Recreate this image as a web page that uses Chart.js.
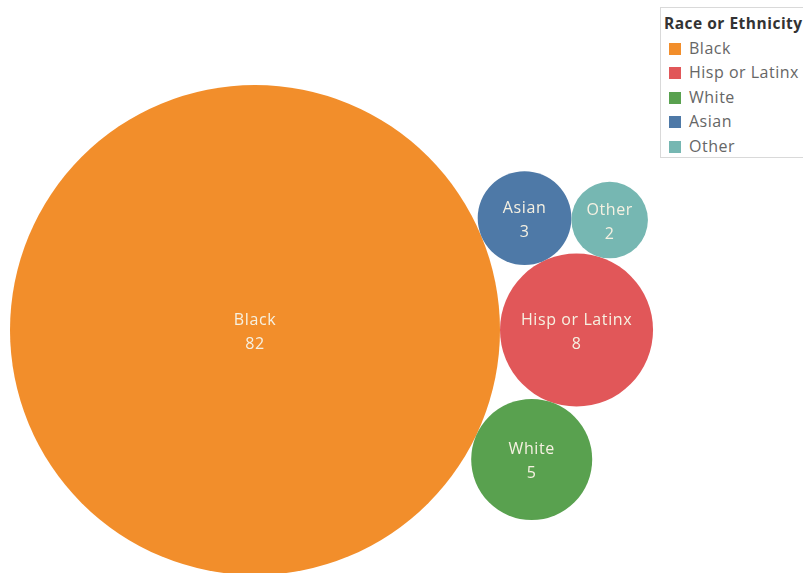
<!DOCTYPE html>
<html>
<head>
<meta charset="utf-8">
<script src="https://cdn.jsdelivr.net/npm/chart.js@4.4.0/dist/chart.umd.min.js"></script>
<style>
  body { margin: 0; background: #fff; overflow: hidden; font-family: "Open Sans", sans-serif; }
  .wrap { position: relative; width: 803px; height: 573px; }
  #legend {
    position: absolute; left: 660px; top: 7px; width: 160px; height: 151px;
    border: 1px solid #d9d9d9; box-sizing: border-box; background: #fff;
  }
  #legend .title { font-weight: bold; font-size: 15.5px; letter-spacing: 0.5px; color: #333; margin: 3px 0 0 3px; height: 25px; line-height: 25px; white-space: nowrap; }
  #legend .item { height: 24.4px; line-height: 24px; font-size: 16px; letter-spacing: 0.5px; color: #666; padding-left: 8px; white-space: nowrap; }
  #legend .sw { display: inline-block; width: 12px; height: 12px; margin-right: 8px; vertical-align: -1px; }
</style>
</head>
<body>
<div class="wrap">
  <canvas id="bubbleChart"></canvas>
  <div id="legend"><div class="title">Race or Ethnicity</div></div>
</div>
<script>
// Data
const groups = ['Black', 'Hisp or Latinx', 'White', 'Asian', 'Other'];
const counts = [82, 8, 5, 3, 2];
const colors = ['#f28e2b', '#e15759', '#59a14f', '#4e79a7', '#76b7b2'];

// Bubble radius ~ sqrt(count)
const scaleK = 245 / Math.sqrt(82);
const radii = counts.map(v => scaleK * Math.sqrt(v));

// place a circle of radius r touching circles a and b (side = +1 / -1)
function touch(a, b, r, side) {
    const dA = a.r + r, dB = b.r + r;
    const dx = b.x - a.x, dy = b.y - a.y;
    const d = Math.sqrt(dx * dx + dy * dy);
    const along = (dA * dA - dB * dB + d * d) / (2 * d);
    const h = Math.sqrt(Math.max(0, dA * dA - along * along));
    return {
        x: a.x + along * dx / d - side * h * dy / d,
        y: a.y + along * dy / d + side * h * dx / d,
        r: r
    };
}

// Simple packing around the biggest bubble
const big = { x: 10 + radii[0], y: 330, r: radii[0] };
const hisp = { x: big.x + radii[0] + radii[1], y: big.y, r: radii[1] };
const white = touch(big, hisp, radii[2], 1);
const asian = touch(big, hisp, radii[3], -1);
const other = touch(asian, hisp, radii[4], -1);
const placed = [big, hisp, white, asian, other];

// Legend
const legend = document.getElementById('legend');
groups.forEach((g, i) => {
    const row = document.createElement('div');
    row.className = 'item';
    row.innerHTML = `<span class="sw" style="background:${colors[i]}"></span>${g}`;
    legend.appendChild(row);
});

// Labels inside bubbles
const bubbleLabels = {
    id: 'bubbleLabels',
    afterDatasetsDraw(chart) {
        const ctx = chart.ctx;
        const meta = chart.getDatasetMeta(0);
        ctx.save();
        ctx.fillStyle = '#f6f1e2';
        ctx.font = '16px "Open Sans", sans-serif';
        ctx.letterSpacing = '0.6px';
        ctx.textAlign = 'center';
        ctx.textBaseline = 'middle';
        meta.data.forEach((pt, i) => {
            ctx.fillText(groups[i], pt.x, pt.y - 10);
            ctx.fillText(String(counts[i]), pt.x, pt.y + 14);
        });
        ctx.restore();
    }
};

const ctx = document.getElementById('bubbleChart').getContext('2d');
const bubbleChart = new Chart(ctx, {
    type: 'bubble',
    data: {
        datasets: [{
            data: placed.map(p => ({ x: p.x, y: p.y, r: p.r })),
            backgroundColor: colors,
            borderWidth: 0,
            hoverRadius: 0,
            clip: false
        }]
    },
    options: {
        responsive: true,
        maintainAspectRatio: false,
        animation: false,
        layout: { padding: 0, autoPadding: false },
        plugins: {
            legend: { display: false },
            tooltip: { enabled: false }
        },
        scales: {
            x: { type: 'linear', min: 0, max: 803, display: false },
            y: { type: 'linear', min: 0, max: 573, reverse: true, display: false }
        }
    },
    plugins: [bubbleLabels]
});
</script>
</body>
</html>
